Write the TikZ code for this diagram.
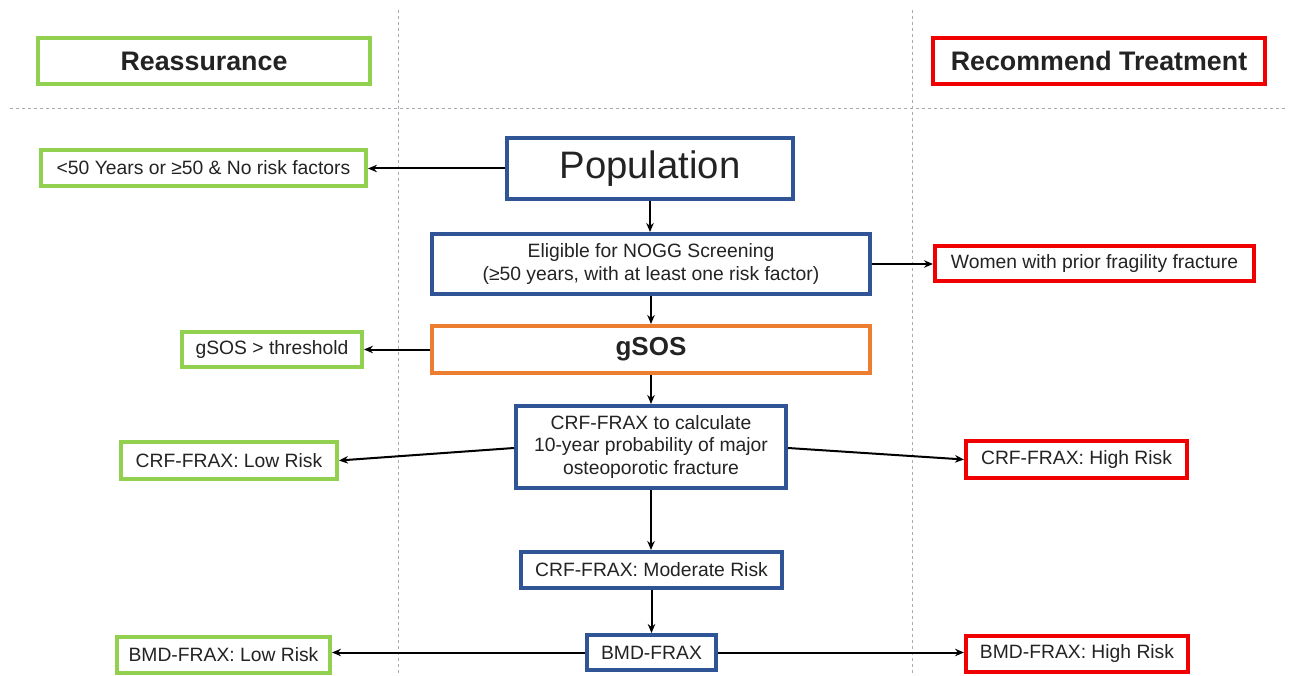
\documentclass[tikz,border=0pt]{standalone}
\usepackage{fontspec}
\setmainfont{Liberation Sans}
\usetikzlibrary{arrows.meta}
\definecolor{bgreen}{RGB}{146,208,80}
\definecolor{bred}{RGB}{240,0,0}
\definecolor{bblue}{RGB}{47,85,151}
\definecolor{borange}{RGB}{237,125,49}
\definecolor{txt}{RGB}{35,35,35}
\definecolor{sep}{RGB}{165,170,180}
\begin{document}
\begin{tikzpicture}[x=1pt,y=-1pt,
  box/.style={draw, line width=4pt, fill=white, text=txt, inner sep=0pt, align=center, anchor=north west},
  gbox/.style={box, draw=bgreen},
  rbox/.style={box, draw=bred},
  bbox/.style={box, draw=bblue},
  obox/.style={box, draw=borange},
  arr/.style={line width=2pt, -{Stealth[length=9pt,width=7.5pt]}},
  sepline/.style={sep, line width=0.9pt, dash pattern=on 3pt off 3pt},
  norm/.style={font=\fontsize{19.3}{24}\selectfont},
  head/.style={font=\fontsize{26.8}{30}\selectfont\bfseries}
]
\useasboundingbox (0,0) rectangle (1290,676);
\fill[white] (0,0) rectangle (1290,676);
% separators
\coordinate (hl) at (10,108); \coordinate (hr) at (1285,108);
\coordinate (v1t) at (398,10); \coordinate (v1b) at (398,676);
\coordinate (v2t) at (912,10); \coordinate (v2b) at (912,676);
\draw[sepline] (hl) -- (hr);
\draw[sepline] (v1t) -- (v1b);
\draw[sepline] (v2t) -- (v2b);
% headers
\node[gbox, head, minimum width=332pt, minimum height=46pt] (reas) at (36,36) {Reassurance};
\node[rbox, head, minimum width=332pt, minimum height=46pt] (rec) at (931,36) {Recommend Treatment};
% main column
\node[bbox, minimum width=286pt, minimum height=61pt, font=\fontsize{38.3}{42}\selectfont] (pop) at (505,136) {Population};
\node[gbox, norm, minimum width=325pt, minimum height=36pt] (young) at (39,148) {<50 Years or ≥50 \& No risk factors};
\node[bbox, norm, minimum width=438pt, minimum height=60pt, font=\fontsize{19.3}{23.5}\selectfont] (elig) at (430,232) {Eligible for NOGG Screening\\(≥50 years, with at least one risk factor)};
\node[rbox, norm, minimum width=319pt, minimum height=35pt] (women) at (933,244) {Women with prior fragility fracture};
\node[obox, minimum width=438pt, minimum height=47pt, font=\fontsize{26}{28}\selectfont\bfseries] (gsos) at (430,324) {gSOS};
\node[gbox, norm, minimum width=180pt, minimum height=35pt] (thr) at (180,330) {gSOS > threshold};
\node[bbox, minimum width=270pt, minimum height=82pt, font=\fontsize{19.3}{22.5}\selectfont] (crf) at (514,404) {CRF-FRAX to calculate\\10-year probability of major\\osteoporotic fracture};
\node[gbox, norm, minimum width=216pt, minimum height=37pt] (crflow) at (119,440) {CRF-FRAX: Low Risk};
\node[rbox, norm, minimum width=221pt, minimum height=37pt] (crfhigh) at (964,439) {CRF-FRAX: High Risk};
\node[bbox, norm, minimum width=261pt, minimum height=36pt] (mod) at (519,550) {CRF-FRAX: Moderate Risk};
\node[bbox, norm, minimum width=129pt, minimum height=35pt] (bmd) at (585,633) {BMD-FRAX};
\node[gbox, norm, minimum width=213pt, minimum height=36pt] (bmdlow) at (115,635) {BMD-FRAX: Low Risk};
\node[rbox, norm, minimum width=222pt, minimum height=36pt] (bmdhigh) at (964,634) {BMD-FRAX: High Risk};
% connectors
\draw[arr] (pop.west) -- (pop.west -| young.east);
\draw[arr] (pop.south) -- (pop.south |- elig.north);
\draw[arr] (elig.east) -- (elig.east -| women.west);
\draw[arr] (elig.south) -- (elig.south |- gsos.north);
\draw[arr] (gsos.west) -- (gsos.west -| thr.east);
\draw[arr] (gsos.south) -- (gsos.south |- crf.north);
\draw[arr] ([yshift=-1pt]crf.west) -- (crflow.east);
\draw[arr] ([yshift=-1pt]crf.east) -- (crfhigh.west);
\draw[arr] (crf.south) -- (crf.south |- mod.north);
\draw[arr] (mod.south) -- (mod.south |- bmd.north);
\draw[arr] (bmd.west) -- (bmd.west -| bmdlow.east);
\draw[arr] (bmd.east) -- (bmd.east -| bmdhigh.west);
\end{tikzpicture}
\end{document}
